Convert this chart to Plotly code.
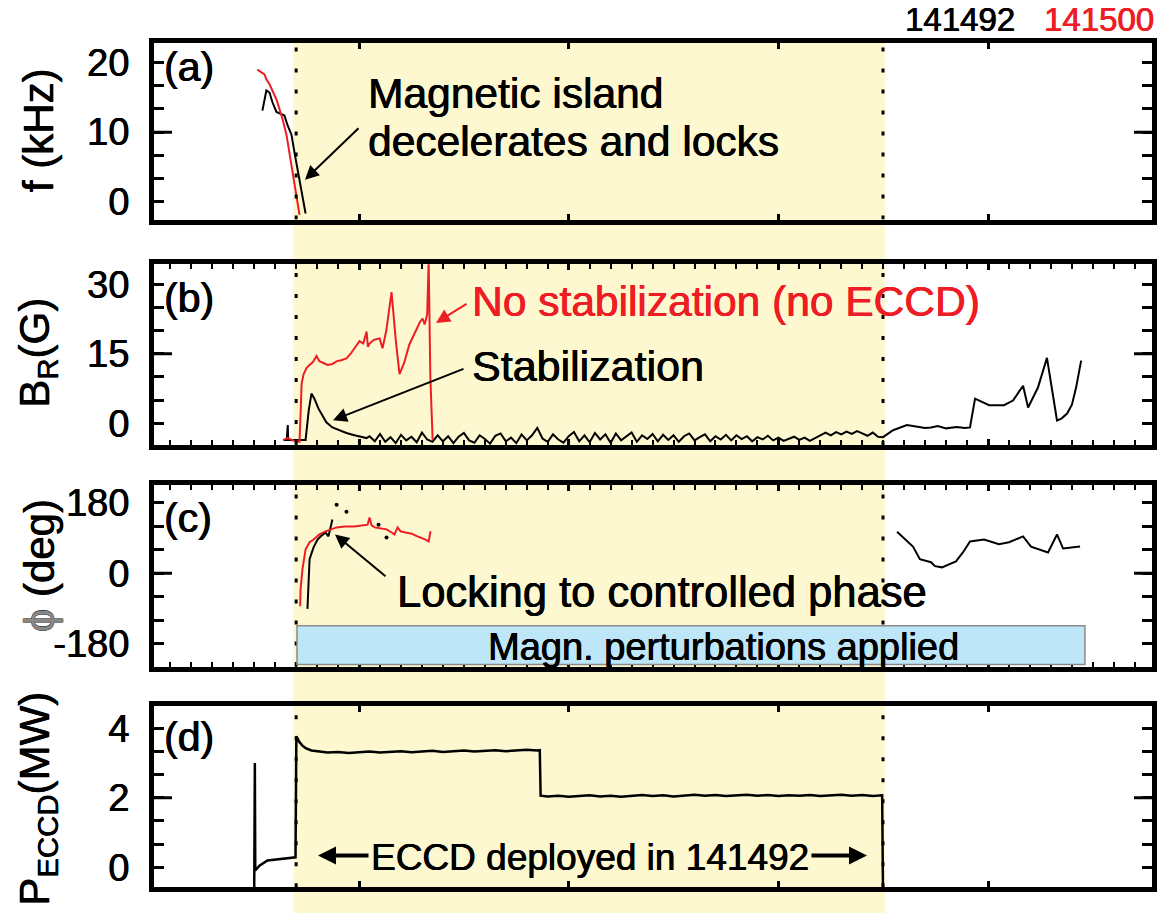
import plotly.graph_objects as go

W, H = 1158, 916
FONT = "Liberation Sans, Arial, sans-serif"
RED = "#ee1d25"

# ---------------- data ----------------
# (a) island rotation frequency f (kHz) vs time (ms)
t_a_red = [1515, 1535, 1549, 1558, 1573, 1606, 1635, 1654, 1668, 1683, 1702, 1716]
f_red = [19.0, 18.6, 18.3, 17.6, 16.9, 14.7, 11.9, 9.6, 7.1, 3.9, 1.0, -1.9]
t_a_blk = [1539, 1549, 1558, 1573, 1587, 1606, 1630, 1644, 1659, 1678, 1692, 1716, 1745]
f_blk = [13.1, 14.7, 16.0, 15.7, 14.3, 12.9, 12.6, 12.4, 11.0, 9.6, 7.1, 3.3, -1.7]

# (b) B_R (G)
t_b_red = [1638, 1660, 1690, 1716, 1722, 1726, 1735, 1749, 1765, 1780, 1797, 1811, 1830,
           1850, 1873, 1895, 1915, 1940, 1960, 1980, 2002, 2020, 2036, 2042, 2050, 2070,
           2098, 2112, 2130, 2155, 2175, 2193, 2215, 2240, 2274, 2290, 2303, 2313, 2325,
           2332, 2340, 2351]
b_red = [-3.6, -3.2, -3.8, -4.0, 3.0, 8.5, 10.5, 11.9, 12.6, 13.2, 14.5, 13.4, 13.0,
         12.6, 12.8, 13.4, 13.6, 14.0, 15.0, 16.2, 17.7, 17.2, 19.8, 16.5, 17.2, 18.0,
         18.3, 16.2, 20.0, 28.3, 18.0, 10.6, 13.0, 17.0, 20.4, 21.8, 22.6, 21.3, 23.5,
         35.0, 10.0, -3.6]
t_b_blk_early = [1640, 1655, 1660, 1662, 1667, 1700, 1745, 1760, 1773, 1787, 1806, 1820,
                 1844, 1873, 1906, 1940, 1978, 2036]
b_blk_early = [-3.6, -3.6, -0.4, -3.6, -3.6, -3.6, -3.6, 2.8, 6.4, 5.3, 3.2, 2.1,
               0.2, -0.9, -1.5, -2.1, -2.6, -3.2]
t_b_blk_mid = list(range(2050, 4500, 25))
b_blk_mid = [-2.8, -3.9, -2.3, -4.0, -3.0, -4.3, -2.5, -3.7, -2.9, -4.1, -2.0, -3.5, -4.0,
             -2.6, -3.9, -2.8, -4.3, -2.9, -2.1, -3.7, -4.2, -2.6, -3.4, -4.4, -2.7, -2.2,
             -3.9, -3.1, -4.3, -2.4, -3.7, -2.6, -1.0, -3.3, -4.0, -2.4, -3.5, -4.2, -2.8,
             -1.9, -3.9, -2.6, -4.1, -2.1, -3.5, -2.4, -4.2, -2.2, -3.7, -2.8, -2.0, -4.0,
             -2.6, -3.4, -2.3, -3.9, -2.5, -3.6, -2.6, -4.0, -2.8, -2.2, -3.7, -3.0, -2.4,
             -3.9, -2.8, -3.5, -2.5, -3.7, -2.6, -3.4, -2.8, -3.9, -3.0, -3.5, -2.7, -3.7,
             -3.1, -3.8, -3.3, -2.9, -3.6, -3.1, -3.8, -3.2, -2.5, -2.0, -2.6, -1.9, -2.4,
             -1.8, -2.3, -1.7, -2.2, -2.7, -2.0, -2.9]
t_b_blk_late = [4499, 4547, 4613, 4650, 4700, 4728, 4760, 4800, 4850, 4890, 4914, 4938,
                5005, 5076, 5119, 5167, 5191, 5238, 5281, 5329, 5350, 5377, 5400, 5420, 5444]
b_blk_late = [-3.0, -1.5, -0.4, -0.7, -1.0, -0.9, -0.6, -1.1, -0.8, -1.0, -0.9, 5.3,
              3.9, 3.9, 4.9, 8.1, 3.4, 7.7, 14.1, 0.6, 1.0, 2.1, 4.0, 7.7, 13.5]

# (c) phase phi (deg)
t_c_red = [1719, 1721, 1730, 1745, 1764, 1783, 1811, 1840, 1893, 1931, 1978, 2012, 2041,
           2050, 2060, 2074, 2103, 2131, 2155, 2169, 2184, 2198, 2222, 2251, 2270, 2294,
           2317, 2332, 2341]
phi_red = [-84, -41, 10, 61, 79, 86, 99, 107, 117, 119, 119, 122, 124,
           142, 122, 117, 114, 112, 104, 99, 117, 107, 104, 101, 96, 91,
           86, 81, 107]
t_c_blk = [1754, 1759, 1764, 1783, 1802, 1821, 1840, 1854, 1873]
phi_blk = [-91, -41, 36, 66, 86, 96, 104, 94, 137]
t_c_dots = [1893, 1940, 2093, 2131]
phi_dots = [175, 157, 124, 91]
t_c_blk2 = [4566, 4589, 4642, 4675, 4728, 4747, 4780, 4847, 4880, 4914, 4981, 5052,
            5100, 5167, 5205, 5286, 5329, 5358, 5439]
phi_blk2 = [106, 94, 68, 36, 28, 18, 15, 30, 53, 81, 86, 74, 79, 94, 68, 53, 99, 63, 68]

# (d) ECCD power (MW)
t_d = [1500, 1503, 1505, 1525, 1563, 1600, 1640, 1697, 1701, 1716, 1730, 1745, 1773,
       1802, 1850, 1900, 1950, 2000, 2050, 2100, 2150, 2200, 2250, 2300, 2350, 2400,
       2450, 2500, 2550, 2600, 2650, 2700, 2750, 2800, 2850, 2862,
       2866, 2900, 2950, 3000, 3050, 3100, 3150, 3200, 3250, 3300, 3350, 3400, 3450,
       3500, 3550, 3600, 3650, 3700, 3750, 3800, 3850, 3900, 3950, 4000, 4050, 4100,
       4150, 4200, 4250, 4300, 4350, 4400, 4450, 4495, 4499]
p_d = [-0.7, 3.0, -0.09, 0.05, 0.2, 0.22, 0.25, 0.29, 3.77, 3.6, 3.5, 3.43, 3.36,
       3.33, 3.30, 3.32, 3.29, 3.31, 3.33, 3.30, 3.32, 3.34, 3.31, 3.33, 3.35, 3.32,
       3.34, 3.36, 3.33, 3.35, 3.37, 3.34, 3.36, 3.38, 3.36, 3.37,
       2.06, 2.04, 2.06, 2.03, 2.05, 2.07, 2.04, 2.06, 2.03, 2.05, 2.08, 2.05, 2.07,
       2.04, 2.06, 2.09, 2.06, 2.08, 2.05, 2.07, 2.09, 2.06, 2.08, 2.05, 2.07, 2.06,
       2.08, 2.05, 2.07, 2.09, 2.06, 2.08, 2.05, 2.07, -0.7]

# event times (ms)
t_lock_start = 1700
t_eccd_end = 4499
t_pert = [1704, 5462]

# axis ranges / ticks
XR = [1022, 5782]
YA, YB, YC, YD = [-2.57, 22.86], [-4.71, 34.3], [-238.3, 225.6], [-0.57, 4.63]
YTICKS = [[0, 10, 20], [0, 15, 30], [-180, 0, 180], [0, 2, 4]]
YTICKTEXT = [["0", "10", "20"], ["0", "15", "30"], ["-180", "0", "180"], ["0", "2", "4"]]
YMIN = [10 / 3, 5, 60, 2 / 3]
YMID = [10, 15, 0, 2]

# ---------------- layout geometry (pixels) ----------------
def px(x):
    return x / W


def py(y):
    return 1 - y / H


XDOM = [px(154), px(1152)]
YDOMS = [[py(218), py(40)], [py(445), py(263)], [py(668), py(485)], [py(890), py(708)]]
RANGES = [YA, YB, YC, YD]

fig = go.Figure()

def line(x, y, ax, color="black", width=2, mode="lines", size=4):
    fig.add_trace(go.Scatter(x=x, y=y, mode=mode, xaxis=ax[0], yaxis=ax[1],
                             line=dict(color=color, width=width),
                             marker=dict(color=color, size=size),
                             showlegend=False, hoverinfo="skip"))

A, B, C, D = ("x", "y"), ("x2", "y2"), ("x3", "y3"), ("x4", "y4")
line(t_a_blk, f_blk, A)
line(t_a_red, f_red, A, RED)
line(t_b_blk_early + t_b_blk_mid + t_b_blk_late, b_blk_early + b_blk_mid + b_blk_late, B, width=2)
line(t_b_red, b_red, B, RED)
line(t_c_blk, phi_blk, C)
line(t_c_dots, phi_dots, C, mode="markers", size=4)
line(t_c_blk2, phi_blk2, C)
line(t_c_red, phi_red, C, RED)
line(t_d, p_d, D, width=2.5)

shapes = []
# yellow band (ECCD window)
shapes.append(dict(type="rect", xref="paper", yref="paper", x0=px(293), x1=px(885),
                   y0=0, y1=py(37), fillcolor="#fdf8cf", line=dict(width=0), layer="below"))
for i, rg in enumerate(RANGES):
    xa = "x" if i == 0 else f"x{i+1}"
    ya = "y" if i == 0 else f"y{i+1}"
    for tx in (t_lock_start, t_eccd_end):
        shapes.append(dict(type="line", xref=xa, yref=ya, x0=tx, x1=tx, y0=rg[0], y1=rg[1],
                           line=dict(color="black", width=3, dash="4px,17px")))
    # long middle ticks
    for x0, x1 in ((0, 18 / 998), (1 - 18 / 998, 1)):
        shapes.append(dict(type="line", xref=f"{xa} domain", yref=ya, x0=x0, x1=x1,
                           y0=YMID[i], y1=YMID[i], line=dict(color="black", width=3)))
# magnetic perturbation bar
shapes.append(dict(type="rect", xref="x3", yref="y3", x0=t_pert[0], x1=t_pert[1],
                   y0=-233, y1=-134, fillcolor="#bde6f8", line=dict(color="#8a8a8a", width=1.5)))

ann = []

def shadow(color):
    return f"0.5px 0px 0px {color}, -0.3px 0px 0px {color}"


def txt(s, x, y, size=43, color="black", xanchor="left", angle=0):
    ann.append(dict(text=s, x=px(x), y=py(y), xref="paper", yref="paper", showarrow=False,
                    xanchor=xanchor, yanchor="middle", textangle=angle,
                    font=dict(family=FONT, size=size, color=color, shadow=shadow(color))))


def arrow(tail, tip, color="black", width=2, size=1.4):
    ann.append(dict(text="", x=px(tip[0]), y=py(tip[1]), xref="paper", yref="paper",
                    ax=tail[0] - tip[0], ay=tail[1] - tip[1], showarrow=True,
                    arrowhead=2, arrowsize=size, arrowwidth=width, arrowcolor=color))

txt("(a)", 162, 64, 41)
txt("(b)", 162, 297, 41)
txt("(c)", 162, 518, 41)
txt("(d)", 162, 739, 41)
txt("f (kHz)", 38, 128, 42, xanchor="center", angle=-90)
txt("B<sub>R</sub>(G)", 38, 352, 42, xanchor="center", angle=-90)
txt("<span style='color:#888'>ϕ</span> (deg)", 39, 567, 42, xanchor="center", angle=-90)
txt("P<sub>ECCD</sub>(MW)", 38, 801, 42, xanchor="center", angle=-90)
txt("141492", 903, 17, 33)
txt("141500", 1042, 17, 33, RED)
txt("Magnetic island", 366, 91, 42.5)
txt("decelerates and locks", 366, 139, 42.5)
arrow((360, 125), (305, 178))
txt("No stabilization (no ECCD)", 470, 300, 42.5, RED)
arrow((468, 302), (436, 322), RED)
txt("Stabilization", 470, 365, 43)
arrow((465, 368), (333, 420))
txt("Locking to controlled phase", 395, 593, 43.5)
arrow((387, 578), (335, 535))
txt("Magn. perturbations applied", 723, 648, 38, xanchor="center")
txt("ECCD deployed in 141492", 590, 860, 37, xanchor="center")
arrow((370, 858), (318, 858), width=4, size=0.9)
arrow((810, 858), (867, 858), width=4, size=0.9)

layout = dict(width=W, height=H, margin=dict(l=0, r=0, t=0, b=0),
              paper_bgcolor="white", plot_bgcolor="rgba(0,0,0,0)",
              shapes=shapes, annotations=ann, showlegend=False)

for i, rg in enumerate(RANGES):
    xk = "xaxis" if i == 0 else f"xaxis{i+1}"
    yk = "yaxis" if i == 0 else f"yaxis{i+1}"
    xa = "x" if i == 0 else f"x{i+1}"
    ya = "y" if i == 0 else f"y{i+1}"
    xminor = dict(dtick=100, tick0=1000, ticklen=5, tickwidth=2, tickcolor="black",
                  ticks="inside") if i in (1, 2) else dict(ticks="")
    layout[xk] = dict(domain=XDOM, range=XR, anchor=ya, showticklabels=False,
                      showgrid=False, zeroline=False, showline=True, linecolor="black",
                      linewidth=5, mirror="ticks", ticks="inside", ticklen=6, tickwidth=3,
                      tickcolor="black", tick0=1000, dtick=1000, minor=xminor)
    layout[yk] = dict(domain=YDOMS[i], range=rg, anchor=xa, showgrid=False, zeroline=False,
                      showline=True, linecolor="black", linewidth=5, mirror="ticks",
                      ticks="inside", ticklen=10, tickwidth=3, tickcolor="black",
                      tickmode="array", tickvals=YTICKS[i], ticktext=YTICKTEXT[i],
                      ticklabelstandoff=12,
                      tickfont=dict(family=FONT, size=38, color="black",
                                    shadow=shadow("black")),
                      minor=dict(tickmode="linear", dtick=YMIN[i], tick0=0, ticklen=10,
                                 tickwidth=3, tickcolor="black", ticks="inside"))

fig.update_layout(**layout)
fig.write_html("out.html")
